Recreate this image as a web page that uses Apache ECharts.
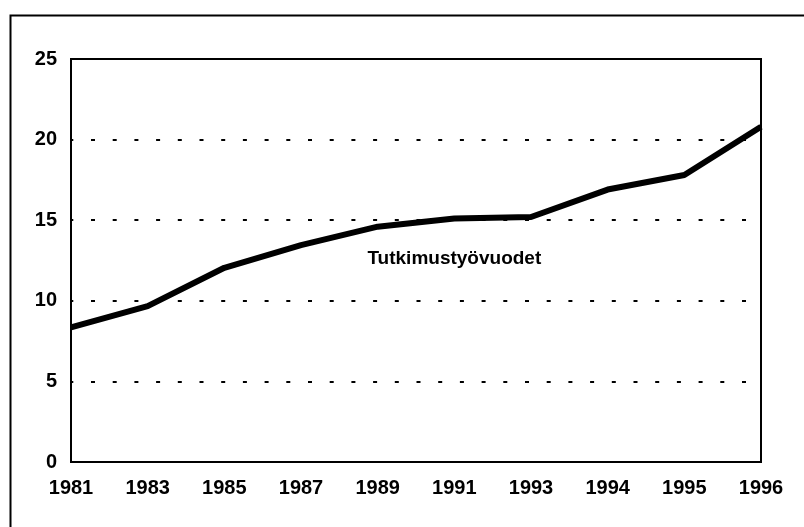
<!DOCTYPE html>
<html>
<head>
<meta charset="utf-8">
<script src="https://cdn.jsdelivr.net/npm/echarts@6/dist/echarts.min.js"></script>
<style>html,body{margin:0;padding:0;background:#fff}#c{width:804px;height:527px}</style>
</head>
<body>
<div id="c"></div>
<script>
const years = ['1981','1983','1985','1987','1989','1991','1993','1994','1995','1996'];
const values = [8.35, 9.67, 12.05, 13.45, 14.6, 15.1, 15.2, 16.9, 17.8, 20.8];
const seriesName = 'Tutkimustyövuodet';
const labelAt = ['1991', 12.6];

const chart = echarts.init(document.getElementById('c'));
const font = 'Liberation Sans, Arial, sans-serif';
chart.setOption({
  animation: false,
  backgroundColor: '#fff',
  graphic: [{
    type: 'rect', left: 8, top: 13,
    shape: { width: 830, height: 560 },
    style: { fill: 'none', stroke: '#000', lineWidth: 2 }
  }],
  grid: { left: 71, right: 43, top: 59, bottom: 65, show: true, borderColor: '#000', borderWidth: 2 },
  xAxis: {
    type: 'category', data: years, boundaryGap: false,
    axisLine: { lineStyle: { color: '#000', width: 2 } },
    axisTick: { show: false },
    axisLabel: { color: '#000', fontFamily: font, fontWeight: 'bold', fontSize: 20, margin: 16 },
    splitLine: { show: false }
  },
  yAxis: {
    type: 'value', min: 0, max: 25, interval: 5,
    axisLine: { show: true, lineStyle: { color: '#000', width: 2 } },
    axisTick: { show: false },
    axisLabel: { color: '#000', fontFamily: font, fontWeight: 'bold', fontSize: 20, margin: 14 },
    splitLine: { show: true, lineStyle: { color: '#000', width: 2, type: [4, 17.7], dashOffset: -20 } }
  },
  series: [{
    name: seriesName, type: 'line', data: values,
    symbol: 'none', lineStyle: { color: '#000', width: 6 },
    markPoint: {
      symbolSize: 0,
      data: [{ coord: labelAt, value: seriesName }],
      label: { show: true, position: 'inside', formatter: seriesName, color: '#000', fontFamily: font, fontSize: 19, fontWeight: 'bold' }
    }
  }]
});
</script>
</body>
</html>
